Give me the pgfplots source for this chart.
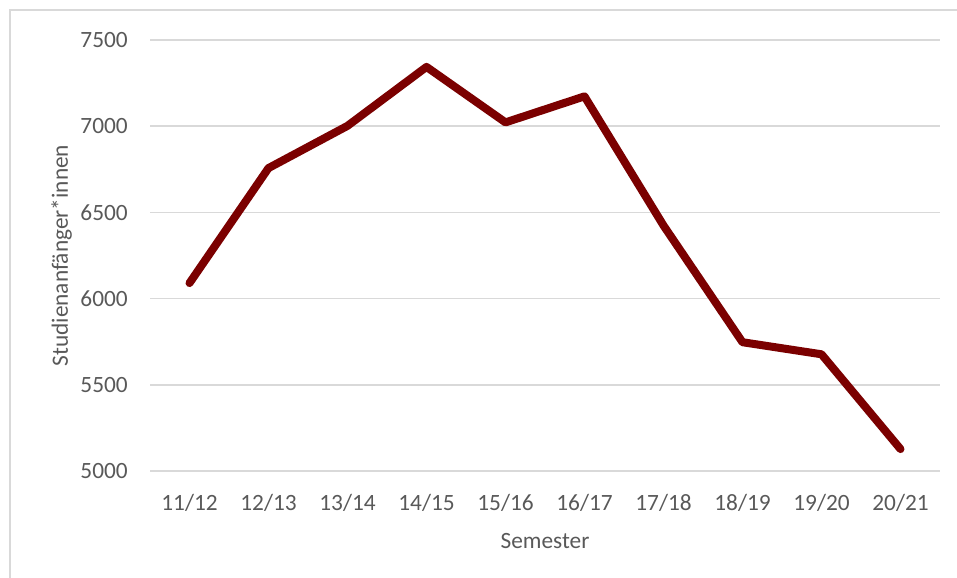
\documentclass[border=0pt]{standalone}
\usepackage{pgfplots}
\pgfplotsset{compat=1.18}
\usepackage{fontspec}
\setmainfont{Carlito}
\definecolor{linered}{HTML}{7B0000}
\definecolor{gridgray}{HTML}{D9D9D9}
\definecolor{txtgray}{HTML}{595959}
\begin{document}
\fontsize{17.5pt}{21pt}\selectfont
\begin{tikzpicture}
\useasboundingbox (0,0) rectangle (717.75pt,433.5pt);
\draw[gridgray, line width=1.4pt] (7.5pt,0) -- (7.5pt,426pt) -- (717.75pt,426pt);
\begin{axis}[
 at={(112.5pt,80.25pt)}, anchor=south west,
 width=592.5pt, height=323.25pt, scale only axis,
 xmin=-0.5, xmax=9.5, ymin=5000, ymax=7500,
 xtick={0,...,9},
 xticklabels={11/12,12/13,13/14,14/15,15/16,16/17,17/18,18/19,19/20,20/21},
 ytick={5000,5500,6000,6500,7000,7500},
 ymajorgrids, grid style={gridgray, line width=1.3pt},
 axis line style={draw=none},
 major tick length=0pt,
 tick label style={font=\fontsize{17.5pt}{21pt}\selectfont, text=txtgray},
 /pgf/number format/assume math mode=true,
 /pgf/number format/1000 sep={},
 xticklabel style={anchor=base, inner sep=0pt, yshift=-30pt},
 yticklabel style={anchor=east, inner sep=0pt, xshift=-16.5pt},
 xlabel={Semester}, ylabel={Studienanfänger*innen},
 every axis x label/.style={at={(axis description cs:0.5,-0.1787)}, anchor=base, inner sep=0pt, text=txtgray, font=\fontsize{17.5pt}{21pt}\selectfont},
 every axis y label/.style={at={(axis description cs:-0.1038,0.5)}, rotate=90, anchor=base, inner sep=0pt, text=txtgray, font=\fontsize{17.5pt}{21pt}\selectfont},
]
\addplot[linered, line width=6pt, line join=round, line cap=round] coordinates {
 (0,6090) (1,6757) (2,7002) (3,7344) (4,7022) (5,7173) (6,6424) (7,5747) (8,5677) (9,5127)
};
\end{axis}
\end{tikzpicture}
\end{document}
